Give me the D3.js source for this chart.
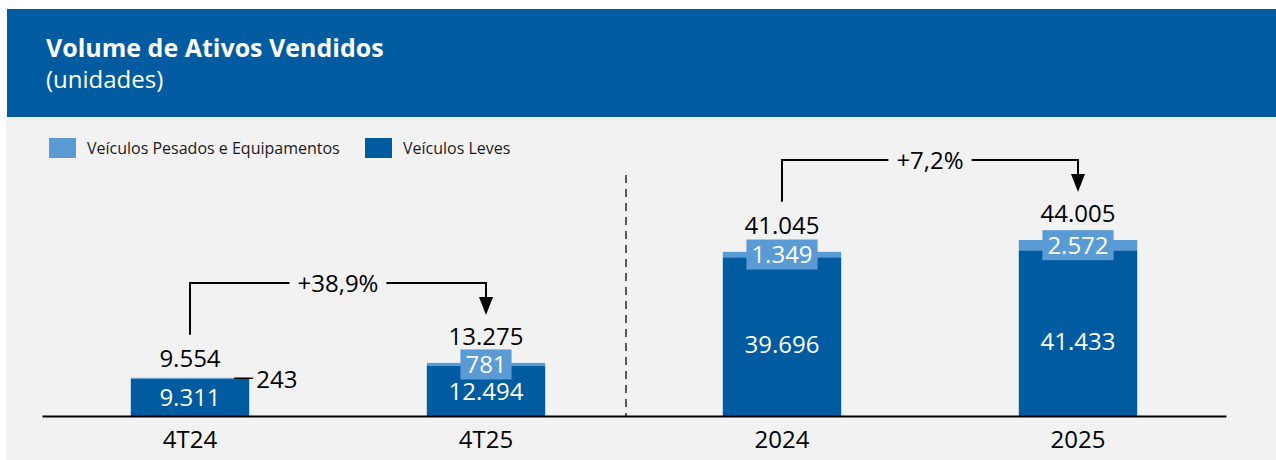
<!DOCTYPE html>
<html>
<head>
<meta charset="utf-8">
<script src="https://cdn.jsdelivr.net/npm/d3@7"></script>
<style>
  html, body { margin: 0; padding: 0; background: #fff; }
  svg { display: block; font-family: "Segoe UI", "Open Sans", sans-serif; }
</style>
</head>
<body>
<div id="chart"></div>
<script>
// Data
const categories = ['4T24', '4T25', '2024', '2025'];
const leves = [9311, 12494, 39696, 41433];
const pesados = [243, 781, 1349, 2572];
const totals = [9554, 13275, 41045, 44005];
const growth = [
  { from: '4T24', to: '4T25', label: '+38,9%' },
  { from: '2024', to: '2025', label: '+7,2%' }
];
const seriesNames = ['Veículos Pesados e Equipamentos', 'Veículos Leves'];
const title = 'Volume de Ativos Vendidos';
const subtitle = '(unidades)';

const fmt = v => d3.format(',')(v).replace(/,/g, '.');

const W = 1276, H = 460;
const dark = '#005ba0', light = '#5b9bd5';

const svg = d3.select('#chart').append('svg')
  .attr('width', W).attr('height', H);

// header + panel
svg.append('rect').attr('x', 7).attr('y', 9).attr('width', W - 7).attr('height', 108).attr('fill', dark);
svg.append('rect').attr('x', 6).attr('y', 117).attr('width', W - 6).attr('height', H - 117).attr('fill', '#f2f2f2');
svg.append('text').attr('x', 46).attr('y', 57).attr('fill', '#fff')
  .style('font-size', '25px').style('font-weight', 700).text(title);
svg.append('text').attr('x', 46).attr('y', 88).attr('fill', '#fff')
  .style('font-size', '24px').text(subtitle);

// legend
const legend = svg.append('g');
[[49, light], [365, dark]].forEach(([lx, c], i) => {
  legend.append('rect').attr('x', lx).attr('y', 138).attr('width', 27).attr('height', 20).attr('fill', c);
  legend.append('text').attr('x', lx + 38).attr('y', 154).attr('fill', '#1a1a1a')
    .style('font-size', '16px').text(seriesNames[i]);
});

// scales
const x = d3.scaleBand().domain(categories).range([42, 1226]).paddingInner(0.6).paddingOuter(0.3);
const y = d3.scaleLinear().domain([0, 44005]).range([416, 240]);

const rows = categories.map((c, i) => ({ cat: c, leves: leves[i], pesados: pesados[i], total: totals[i] }));

// divider
svg.append('line')
  .attr('x1', 626).attr('x2', 626).attr('y1', 175).attr('y2', 416)
  .attr('stroke', '#595959').attr('stroke-width', 2).attr('stroke-dasharray', '8,6');

const g = svg.append('g');

// stacked bars
g.selectAll('rect.leves').data(rows).join('rect')
  .attr('class', 'leves')
  .attr('x', d => x(d.cat)).attr('width', x.bandwidth())
  .attr('y', d => y(d.leves)).attr('height', d => y(0) - y(d.leves))
  .attr('fill', dark);
g.selectAll('rect.pesados').data(rows).join('rect')
  .attr('class', 'pesados')
  .attr('x', d => x(d.cat)).attr('width', x.bandwidth())
  .attr('y', d => y(d.total)).attr('height', d => y(d.leves) - y(d.total))
  .attr('fill', light);

const outside = d => (y(d.leves) - y(d.total)) < 2;
const cx = d => x(d.cat) + x.bandwidth() / 2;

// leves labels (tall bars sit a little below the middle, as in the original)
g.selectAll('text.lv').data(rows).join('text')
  .attr('x', cx)
  .attr('y', d => {
    const h = y(0) - y(d.leves);
    return (y(d.leves) + y(0)) / 2 + 8.5 + (h > 100 ? 8 : 0);
  })
  .attr('text-anchor', 'middle').attr('fill', '#fff').style('font-size', '24px')
  .text(d => fmt(d.leves));

// pesados labels
rows.forEach(d => {
  const mid = (y(d.leves) + y(d.total)) / 2;
  if (outside(d)) {
    const x1 = x(d.cat) + x.bandwidth();
    g.append('line').attr('x1', x1 - 15).attr('x2', x1 + 4).attr('y1', mid).attr('y2', mid)
      .attr('stroke', '#000').attr('stroke-width', 1.5);
    g.append('text').attr('x', x1 + 7).attr('y', mid + 10).attr('fill', '#000')
      .style('font-size', '24px').text(fmt(d.pesados));
  } else {
    const t = g.append('text').attr('x', cx(d)).attr('y', mid + 8.5)
      .attr('text-anchor', 'middle').attr('fill', '#fff').style('font-size', '24px')
      .text(fmt(d.pesados));
    const bw = t.node().getComputedTextLength() + 10;
    g.insert('rect', () => t.node())
      .attr('x', cx(d) - bw / 2).attr('y', mid - 15).attr('width', bw).attr('height', 30)
      .attr('fill', light);
  }
});

// totals
const totalBase = d => y(d.total) - (outside(d) ? 11 : 18);
g.selectAll('text.tot').data(rows).join('text')
  .attr('x', cx).attr('y', totalBase)
  .attr('text-anchor', 'middle').attr('fill', '#000').style('font-size', '24px')
  .text(d => fmt(d.total));

// axis
const axis = svg.append('g').attr('transform', `translate(0,${y(0)})`)
  .call(d3.axisBottom(x).tickSize(0).tickPadding(15));
axis.select('.domain').attr('stroke', '#000').attr('stroke-width', 2);
axis.selectAll('text').attr('fill', '#000').style('font-size', '24px')
  .style('font-family', '"Segoe UI", "Open Sans", sans-serif');

// growth brackets
growth.forEach(gr => {
  const a = rows.find(r => r.cat === gr.from), b = rows.find(r => r.cat === gr.to);
  const xa = cx(a), xb = cx(b);
  const ya = totalBase(a) - 32, yb = totalBase(b) - 30;
  const top = Math.min(totalBase(a), totalBase(b)) - 62;
  const xm = (xa + xb) / 2;
  const lbl = svg.append('text').attr('x', xm).attr('y', top + 9)
    .attr('text-anchor', 'middle').attr('fill', '#000').style('font-size', '24px').text(gr.label);
  const half = lbl.node().getComputedTextLength() / 2 + 8;
  const path = d3.path();
  path.moveTo(xa, ya); path.lineTo(xa, top); path.lineTo(xm - half, top);
  path.moveTo(xm + half, top); path.lineTo(xb, top); path.lineTo(xb, yb - 16);
  svg.append('path').attr('d', path.toString()).attr('fill', 'none')
    .attr('stroke', '#000').attr('stroke-width', 2);
  svg.append('path')
    .attr('d', `M${xb - 7},${yb - 18}L${xb + 7},${yb - 18}L${xb},${yb}Z`)
    .attr('fill', '#000');
});
</script>
</body>
</html>
